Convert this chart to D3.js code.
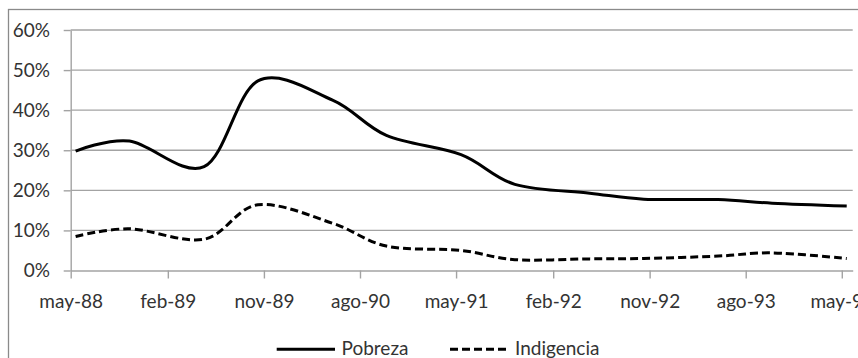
<!DOCTYPE html>
<html>
<head>
<meta charset="utf-8">
<script src="https://cdn.jsdelivr.net/npm/d3@7"></script>
<style>
  html, body { margin: 0; padding: 0; background: #fff; }
  svg { display: block; font-family: Lato, "Open Sans", sans-serif; }
</style>
</head>
<body>
<svg id="chart" width="858" height="358"></svg>
<script>
// Survey dates (May / October waves)
const surveyDates = [
  "1988-05-15", "1988-10-15", "1989-05-15", "1989-10-15", "1990-05-15",
  "1990-10-15", "1991-05-15", "1991-10-15", "1992-05-15", "1992-10-15",
  "1993-05-15", "1993-10-15", "1994-05-15"
];
// Share of persons below the poverty line (%)
const pobreza = [29.8, 32.3, 25.9, 47.3, 42.5, 33.7, 28.9, 21.5, 19.3, 17.8, 17.7, 16.8, 16.1];
// Share of persons below the indigence line (%)
const indigencia = [8.5, 10.4, 7.8, 16.4, 11.8, 6.1, 5.0, 2.7, 2.9, 3.0, 3.6, 4.4, 3.0];

const seriesNames = ["Pobreza", "Indigencia"];
const xTickDates = [
  "1988-05-01", "1989-02-01", "1989-11-01", "1990-08-01", "1991-05-01",
  "1992-02-01", "1992-11-01", "1993-08-01", "1994-05-01"
];
const yTickValues = [0, 10, 20, 30, 40, 50, 60];
const xDomain = ["1988-05-01", "1994-06-01"];

const parse = d3.timeParse("%Y-%m-%d");
const es = d3.timeFormatLocale({
  dateTime: "%A, %e de %B de %Y, %X",
  date: "%d/%m/%Y",
  time: "%H:%M:%S",
  periods: ["AM", "PM"],
  days: ["domingo", "lunes", "martes", "miércoles", "jueves", "viernes", "sábado"],
  shortDays: ["dom", "lun", "mar", "mié", "jue", "vie", "sáb"],
  months: ["enero", "febrero", "marzo", "abril", "mayo", "junio", "julio", "agosto",
           "septiembre", "octubre", "noviembre", "diciembre"],
  shortMonths: ["ene", "feb", "mar", "abr", "may", "jun", "jul", "ago", "sep", "oct", "nov", "dic"]
});
const fmtMonth = es.format("%b-%y");

const svg = d3.select("#chart");
const textColor = "#333333";
const gridColor = "#a3a3a3";

// Outer chart frame (runs past the right and bottom edges)
svg.append("rect")
  .attr("x", 8.5).attr("y", 9.5)
  .attr("width", 900).attr("height", 400)
  .attr("fill", "none").attr("stroke", "#8a8a8a").attr("stroke-width", 1.3);

const x = d3.scaleTime()
  .domain(xDomain.map(parse))
  .range([70.7, 852.7]);
const y = d3.scaleLinear()
  .domain([0, 60])
  .range([270.5, 30]);

// Horizontal gridlines
svg.append("g")
  .selectAll("line")
  .data(yTickValues.filter(v => v > 0))
  .join("line")
  .attr("x1", x.range()[0]).attr("x2", x.range()[1])
  .attr("y1", d => y(d)).attr("y2", d => y(d))
  .attr("stroke", gridColor).attr("stroke-width", 1.4);

// Y axis
const yAxis = svg.append("g")
  .attr("transform", `translate(${x.range()[0]},0)`)
  .call(d3.axisLeft(y).tickValues(yTickValues).tickSize(7).tickSizeOuter(0)
    .tickFormat(d => d + "%"));
yAxis.select(".domain").attr("stroke", gridColor).attr("stroke-width", 1.4);
yAxis.selectAll(".tick line").attr("stroke", gridColor).attr("stroke-width", 1.4);
yAxis.selectAll(".tick text")
  .attr("x", -20.7).attr("dy", null).attr("y", 6.2)
  .attr("fill", textColor)
  .style("font-size", "19px").style("font-family", "Lato, sans-serif");

// X axis
const xAxis = svg.append("g")
  .attr("transform", `translate(0,${y(0)})`)
  .call(d3.axisBottom(x).tickValues(xTickDates.map(parse)).tickSize(8).tickSizeOuter(0)
    .tickFormat(fmtMonth));
xAxis.select(".domain").attr("stroke", gridColor).attr("stroke-width", 1.4);
xAxis.selectAll(".tick line").attr("stroke", gridColor).attr("stroke-width", 1.4);
xAxis.selectAll(".tick text")
  .attr("dy", null).attr("y", 37.5)
  .attr("fill", textColor)
  .style("font-size", "19px").style("font-family", "Lato, sans-serif");

// Smoothed series lines
const dates = surveyDates.map(parse);
const line = d3.line()
  .x((d, i) => x(dates[i]))
  .y(d => y(d))
  .curve(d3.curveCardinal.tension(0));

const styles = [
  { values: pobreza, dash: null },
  { values: indigencia, dash: "8,4" }
];

svg.append("g")
  .selectAll("path")
  .data(styles)
  .join("path")
  .attr("d", d => line(d.values))
  .attr("fill", "none")
  .attr("stroke", "#000")
  .attr("stroke-width", 3)
  .attr("stroke-dasharray", d => d.dash);

// Legend
const legendItems = [
  { name: seriesNames[0], x1: 276.7, x2: 335, tx: 341.5, dash: null },
  { name: seriesNames[1], x1: 450, x2: 510, tx: 515, dash: "8,4" }
];
const legend = svg.append("g");
legendItems.forEach(it => {
  legend.append("line")
    .attr("x1", it.x1).attr("x2", it.x2)
    .attr("y1", 349.3).attr("y2", 349.3)
    .attr("stroke", "#000").attr("stroke-width", 3)
    .attr("stroke-dasharray", it.dash);
  legend.append("text")
    .attr("x", it.tx).attr("y", 355.3)
    .attr("fill", textColor)
    .style("font-size", "19px")
    .text(it.name);
});
</script>
</body>
</html>
